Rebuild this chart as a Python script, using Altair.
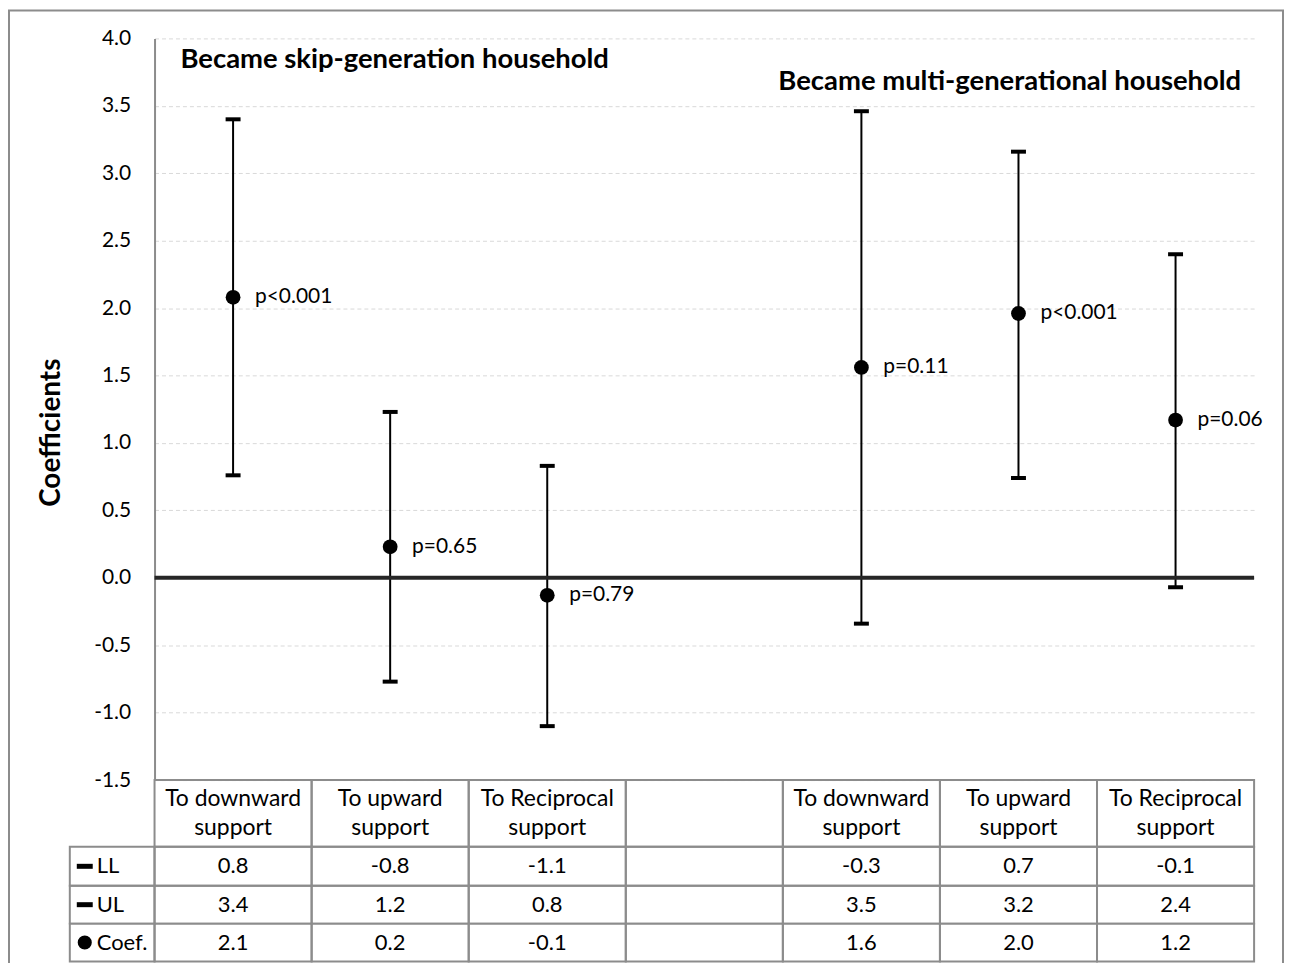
import altair as alt
import pandas as pd

# ---------------- data ----------------
categories = ["To downward\nsupport", "To upward\nsupport", "To Reciprocal\nsupport", "",
              "To downward\nsupport", "To upward\nsupport", "To Reciprocal\nsupport"]
coef = [2.08, 0.23, -0.13, None, 1.56, 1.96, 1.17]
lower = [0.76, -0.77, -1.10, None, -0.34, 0.74, -0.07]
upper = [3.40, 1.23, 0.83, None, 3.46, 3.16, 2.40]
p_labels = ["p<0.001", "p=0.65", "p=0.79", "", "p=0.11", "p<0.001", "p=0.06"]
group_titles = ["Became skip-generation household", "Became multi-generational household"]
row_labels = ["LL", "UL", "Coef."]
y_ticks = [-1.5, -1.0, -0.5, 0.0, 0.5, 1.0, 1.5, 2.0, 2.5, 3.0, 3.5, 4.0]
y_title = "Coefficients"

# ---------------- layout ----------------
FONT = "Lato"
FS = 21
FS_TAB = 22
GRAY = "#8c8c8c"
PLOT_W, PLOT_H = 1103, 744
X_DOM = [-0.5, 6.5]
Y_DOM = [-1.5, 4.0]


def x_at(px):
    return X_DOM[0] + px * (X_DOM[1] - X_DOM[0]) / PLOT_W


def y_at(py):
    return Y_DOM[1] - py * (Y_DOM[1] - Y_DOM[0]) / PLOT_H


xs = alt.Scale(domain=X_DOM, nice=False, zero=False)
ys = alt.Scale(domain=Y_DOM, nice=False, zero=False)

# table rows (pixel offsets below the plot top)
HEADER = (744, 811)
ROWS = [(811, 850), (850, 888), (888, 926)]

df = pd.DataFrame({"idx": list(range(len(categories))), "cat": categories,
                   "coef": coef, "lower": lower, "upper": upper, "p": p_labels})
pts = df[df["coef"].notna()].copy()

cells = []
for i in range(len(categories)):
    cells.append({"x0": i - 0.5, "x1": i + 0.5, "y0": y_at(HEADER[0]), "y1": y_at(HEADER[1])})
    for (a, b) in ROWS:
        cells.append({"x0": i - 0.5, "x1": i + 0.5, "y0": y_at(a), "y1": y_at(b)})
for (a, b) in ROWS:
    cells.append({"x0": x_at(-85), "x1": -0.5, "y0": y_at(a), "y1": y_at(b)})
# outer chart frame
cells.append({"x0": x_at(-146), "x1": x_at(1132), "y0": y_at(-28), "y1": y_at(960)})
cells = pd.DataFrame(cells)

hdr = df[["idx", "cat"]].copy()
hdr["yc"] = y_at((HEADER[0] + HEADER[1]) / 2)

vals = []
for _, r in pts.iterrows():
    for (a, b), key in zip(ROWS, ["lower", "upper", "coef"]):
        vals.append({"idx": r["idx"], "txt": f"{r[key]:.1f}", "yc": y_at((a + b) / 2)})
vals = pd.DataFrame(vals)

rowlab = pd.DataFrame({"label": row_labels,
                       "yc": [y_at((a + b) / 2) for (a, b) in ROWS],
                       "xs": [x_at(-70)] * 3, "xt": [x_at(-58)] * 3})

titles = pd.DataFrame({"text": group_titles,
                       "x": [x_at(26), x_at(1090)],
                       "y": [y_at(22), y_at(44)],
                       "side": ["left", "right"]})
zero_df = pd.DataFrame({"y": [0.0]})

yaxis = alt.Axis(values=y_ticks, format=".1f",
                 labelExpr="replace(datum.label, '\u2212', '-')",
                 grid=True, gridColor="#d9d9d9", gridDash=[4, 3],
                 gridWidth=1, ticks=False, domain=True, domainColor=GRAY, domainWidth=2,
                 labelFont=FONT, labelFontSize=FS, labelColor="black", labelPadding=24,
                 title=y_title, titleFont=FONT, titleFontSize=28, titleFontWeight="bold",
                 titleColor="black", titleAngle=270, titleX=-103, titleY=395,
                 titleAlign="center", titleBaseline="middle")


def X(f):
    return alt.X(f, scale=xs, axis=None)


def Y(f):
    return alt.Y(f, scale=ys, axis=yaxis)


bars = alt.Chart(pts).mark_rule(color="black", strokeWidth=2).encode(
    x=X("idx:Q"), y=Y("lower:Q"), y2="upper:Q")

zero = alt.Chart(zero_df).mark_rule(color="#262626", strokeWidth=4).encode(y=Y("y:Q"))

cap_lo = alt.Chart(pts).mark_tick(orient="horizontal", size=15, thickness=4, color="black",
                                  opacity=1).encode(x=X("idx:Q"), y=Y("lower:Q"))
cap_hi = alt.Chart(pts).mark_tick(orient="horizontal", size=15, thickness=4, color="black",
                                  opacity=1).encode(x=X("idx:Q"), y=Y("upper:Q"))
dots = alt.Chart(pts).mark_circle(size=220, color="black", opacity=1).encode(
    x=X("idx:Q"), y=Y("coef:Q"))
plab = alt.Chart(pts).mark_text(align="left", baseline="middle", dx=22, fontSize=FS,
                                font=FONT, color="black").encode(
    x=X("idx:Q"), y=Y("coef:Q"), text="p:N")

t1 = alt.Chart(titles).transform_filter("datum.side == 'left'").mark_text(
    align="left", baseline="middle", fontSize=27.5, fontWeight="bold", font=FONT,
    color="black").encode(x=X("x:Q"), y=Y("y:Q"), text="text:N")
t2 = alt.Chart(titles).transform_filter("datum.side == 'right'").mark_text(
    align="right", baseline="middle", fontSize=27.5, fontWeight="bold", font=FONT,
    color="black").encode(x=X("x:Q"), y=Y("y:Q"), text="text:N")

grid = alt.Chart(cells).mark_rect(fillOpacity=0, stroke=GRAY, strokeWidth=2).encode(
    x=X("x0:Q"), x2="x1:Q", y=Y("y0:Q"), y2="y1:Q")
htext = alt.Chart(hdr).mark_text(lineBreak="\n", lineHeight=29, fontSize=23, font=FONT,
                                 baseline="middle", align="center", color="black",
                                 dy=-14.5).encode(
    x=X("idx:Q"), y=Y("yc:Q"), text="cat:N")
vtext = alt.Chart(vals).mark_text(fontSize=FS_TAB, font=FONT, baseline="middle",
                                  align="center", color="black").encode(
    x=X("idx:Q"), y=Y("yc:Q"), text="txt:N")

sym_line = alt.Chart(rowlab).transform_filter("datum.label != 'Coef.'").mark_tick(
    orient="horizontal", size=16, thickness=5, color="black", opacity=1).encode(
    x=X("xs:Q"), y=Y("yc:Q"))
sym_dot = alt.Chart(rowlab).transform_filter("datum.label == 'Coef.'").mark_circle(
    size=200, color="black", opacity=1).encode(x=X("xs:Q"), y=Y("yc:Q"))
ltext = alt.Chart(rowlab).mark_text(align="left", baseline="middle", fontSize=FS_TAB,
                                    font=FONT, color="black").encode(
    x=X("xt:Q"), y=Y("yc:Q"), text="label:N")

chart = alt.layer(bars, zero, cap_lo, cap_hi, dots, plab, t1, t2, grid, htext, vtext,
                  sym_line, sym_dot, ltext).properties(
    width=PLOT_W, height=PLOT_H,
    autosize=alt.AutoSizeParams(type="none"),
    padding={"left": 147, "top": 29, "right": 31, "bottom": 182},
).configure(font=FONT, background="white").configure_view(strokeWidth=0, strokeOpacity=0)

chart.save("out.html", embed_options={"renderer": "svg", "actions": False})
